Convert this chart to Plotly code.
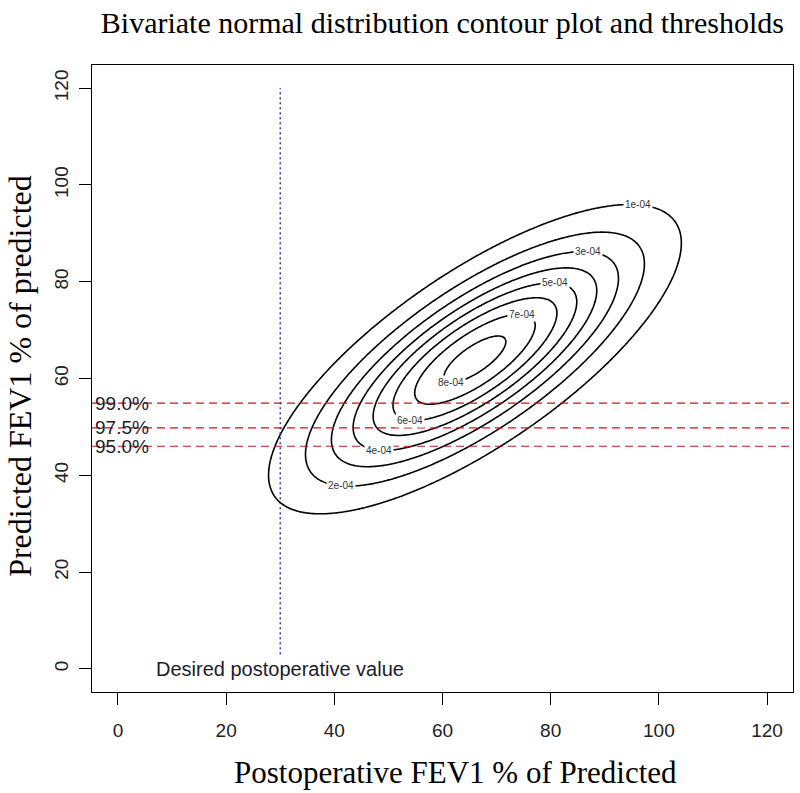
import numpy as np
import plotly.graph_objects as go

# ---- values ----
mean_x, mean_y = 66.0, 64.0          # centre of the bivariate normal
sd_x, sd_y = 18.5, 15.5              # standard deviations
rho = 0.75                            # correlation
levels = [1e-4, 2e-4, 3e-4, 4e-4, 5e-4, 6e-4, 7e-4, 8e-4]
threshold_vals = [54.9, 49.8, 46.0]
threshold_labels = ["99.0%", "97.5%", "95.0%"]
desired_x = 30
desired_label = "Desired postoperative value"
tick_vals = [0, 20, 40, 60, 80, 100, 120]
axis_range = [-4.8, 124.8]

# ---- density grid ----
gx = np.linspace(axis_range[0], axis_range[1], 400)
gy = np.linspace(axis_range[0], axis_range[1], 400)
X, Y = np.meshgrid(gx, gy)
zx = (X - mean_x) / sd_x
zy = (Y - mean_y) / sd_y
q = (zx**2 - 2 * rho * zx * zy + zy**2) / (1 - rho**2)
fmax = 1.0 / (2 * np.pi * sd_x * sd_y * np.sqrt(1 - rho**2))
Z = fmax * np.exp(-0.5 * q)

fig = go.Figure()
fig.add_trace(go.Contour(
    x=gx, y=gy, z=Z,
    contours=dict(coloring="lines", start=levels[0], end=levels[-1],
                  size=levels[1] - levels[0], showlabels=False),
    colorscale=[[0, "black"], [1, "black"]],
    showscale=False, line=dict(width=1.6), hoverinfo="skip",
))

annotations = []
# contour labels placed on each ellipse
for i, lv in enumerate(levels):
    r = np.sqrt(2 * np.log(fmax / lv))
    t = np.deg2rad(38 if i % 2 == 0 else 218)
    lx = mean_x + sd_x * r * np.cos(t)
    ly = mean_y + sd_y * r * (rho * np.cos(t) + np.sqrt(1 - rho**2) * np.sin(t))
    annotations.append(dict(x=lx, y=ly, xref="x", yref="y", text=f"{lv:.0e}",
                            showarrow=False, bgcolor="white", borderpad=1,
                            font=dict(family="Liberation Sans, Arial", size=10, color="#333")))

shapes = []
for v in threshold_vals:
    shapes.append(dict(type="line", xref="x domain", yref="y", x0=0, x1=1, y0=v, y1=v,
                       line=dict(color="#c41818", width=1.2, dash="8px,5px")))
for v, lab in zip(threshold_vals, threshold_labels):
    annotations.append(dict(x=axis_range[0] + 0.2, y=v, xref="x", yref="y", text=lab,
                            xanchor="left", yanchor="middle", showarrow=False,
                            font=dict(family="Liberation Sans, Arial", size=19, color="#1c1c2a")))

shapes.append(dict(type="line", xref="x", yref="y", x0=desired_x, x1=desired_x, y0=3, y1=120,
                   line=dict(color="#1e1ea0", width=1.3, dash="2px,3px")))
annotations.append(dict(x=desired_x, y=0, xref="x", yref="y", text=desired_label,
                        showarrow=False, xanchor="center", yanchor="middle",
                        font=dict(family="Liberation Sans, Arial", size=20, color="#1c1c2a")))

# axis titles
annotations.append(dict(x=0.519, y=-0.1276, xref="paper", yref="paper",
                        text="Postoperative FEV1 % of Predicted", showarrow=False,
                        xanchor="center", yanchor="middle",
                        font=dict(family="Liberation Serif, Times New Roman", size=31, color="black")))
annotations.append(dict(x=-0.102, y=0.505, xref="paper", yref="paper",
                        text="Predicted FEV1 % of predicted", showarrow=False, textangle=-90,
                        xanchor="center", yanchor="middle",
                        font=dict(family="Liberation Serif, Times New Roman", size=32, color="black")))

axis_common = dict(range=axis_range, tickvals=tick_vals, ticks="outside", ticklen=12,
                   tickcolor="black", tickwidth=1, showline=True, mirror=True,
                   linecolor="black", linewidth=1.2, showgrid=False, zeroline=False,
                   automargin=False,
                   tickfont=dict(family="Liberation Sans, Arial", size=19, color="#222"))

fig.update_layout(
    width=800, height=793,
    margin=dict(l=92, r=7, t=65, b=101, autoexpand=False),
    paper_bgcolor="white", plot_bgcolor="white",
    title=dict(text="Bivariate normal distribution contour plot and thresholds",
               x=0.553, xanchor="center", y=0.972, yanchor="middle",
               font=dict(family="Liberation Serif, Times New Roman", size=30, color="black")),
    xaxis=dict(**axis_common, ticklabelstandoff=9),
    yaxis=dict(**axis_common, tickangle=-90, ticklabelstandoff=3),
    shapes=shapes, annotations=annotations, showlegend=False,
)

fig.write_html("out.html", config={"displayModeBar": False},
               post_script="document.body.style.margin='0';document.body.style.overflow='hidden';")
